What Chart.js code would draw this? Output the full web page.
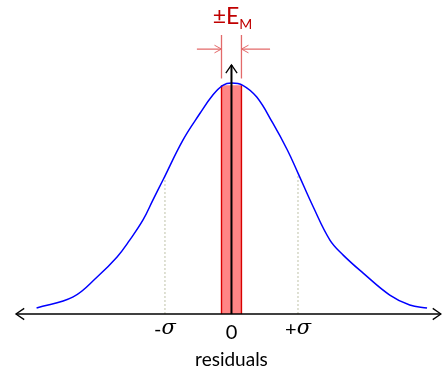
<!DOCTYPE html>
<html>
<head>
<meta charset="utf-8">
<script src="https://cdn.jsdelivr.net/npm/chart.js@4/dist/chart.umd.min.js"></script>
<style>
  html, body { margin: 0; padding: 0; background: #fff; }
  canvas { display: block; }
</style>
</head>
<body>
<canvas id="residualChart" width="442" height="370"></canvas>
<script>
'use strict';

// residual (in sigma) and relative density along the bell curve
const curveX = [-2.93, -2.38, -2.02, -1.72, -1.53, -1.33, -1.18, -1.03, -0.73, -0.47, -0.28, -0.13, 0,
  0.17, 0.38, 0.62, 0.84, 1.0, 1.23, 1.48, 1.68, 1.98, 2.38, 2.68, 2.94];
const curveY = [0.026, 0.074, 0.16, 0.247, 0.32, 0.407, 0.494, 0.58, 0.753, 0.87, 0.948, 0.99, 1.0,
  0.99, 0.939, 0.827, 0.71, 0.61, 0.463, 0.32, 0.255, 0.177, 0.082, 0.039, 0.026];

// sigma guide lines
const sigmaX = [-1, 1];
const sigmaTop = [0.59, 0.6];

// half width of the +-E_M band
const bandHalf = 0.15;
const bandTop = 0.99;

// tick labels under the axis
const tickValues = [-1, 0, 1];
const tickSigns = ['-', '', '+'];
const tickSymbols = ['σ', '0', 'σ'];
const axisTitle = 'residuals';

const blue = '#0000ff',
  bandFill = '#ff8585',
  bandEdge = '#d80000',
  lightRed = '#e36a6a',
  labelRed = '#c00000',
  guideColor = '#bfc2a8',
  black = '#000';

const pts = (xs, ys) => xs.map((v, i) => ({ x: v, y: ys[i] }));

// arrowheads, the E_M markers and the text
const diagramPlugin = {
  id: 'diagram',
  afterDatasetsDraw(chart) {
    const { ctx, scales: { x, y } } = chart;
    const head = (tx, ty, ang, len, spread) => {
      ctx.beginPath();
      ctx.moveTo(tx - len * Math.cos(ang - spread), ty - len * Math.sin(ang - spread));
      ctx.lineTo(tx, ty);
      ctx.lineTo(tx - len * Math.cos(ang + spread), ty - len * Math.sin(ang + spread));
      ctx.stroke();
    };
    ctx.save();

    // horizontal axis with arrows at both ends
    const y0 = y.getPixelForValue(0);
    const xa = x.getPixelForValue(-3.24), xb = x.getPixelForValue(3.15);
    ctx.strokeStyle = black;
    ctx.lineWidth = 1.6;
    ctx.beginPath();
    ctx.moveTo(xa, y0);
    ctx.lineTo(xb, y0);
    ctx.stroke();
    ctx.lineWidth = 1.3;
    head(xa, y0, Math.PI, 10, 0.6);
    head(xb, y0, 0, 10, 0.6);

    // vertical arrow at zero
    const xc = x.getPixelForValue(0);
    const yt = y.getPixelForValue(1.078);
    ctx.lineWidth = 2;
    ctx.beginPath();
    ctx.moveTo(xc, y0);
    ctx.lineTo(xc, yt);
    ctx.stroke();
    ctx.lineWidth = 1.3;
    head(xc, yt, -Math.PI / 2, 10, 0.6);

    // E_M marker lines and arrows
    const xl = x.getPixelForValue(-bandHalf), xr = x.getPixelForValue(bandHalf);
    ctx.strokeStyle = lightRed;
    ctx.lineWidth = 1.3;
    ctx.beginPath();
    ctx.moveTo(xl, y.getPixelForValue(1.02));
    ctx.lineTo(xl, y.getPixelForValue(1.208));
    ctx.moveTo(xr, y.getPixelForValue(1.02));
    ctx.lineTo(xr, y.getPixelForValue(1.208));
    const ya = y.getPixelForValue(1.147);
    ctx.moveTo(x.getPixelForValue(-0.52), ya);
    ctx.lineTo(xl, ya);
    ctx.moveTo(x.getPixelForValue(0.58), ya);
    ctx.lineTo(xr, ya);
    ctx.stroke();
    ctx.lineWidth = 1;
    head(xl, ya, 0, 8, 0.5);
    head(xr, ya, Math.PI, 8, 0.5);

    // ±E_M label
    ctx.fillStyle = labelRed;
    ctx.textBaseline = 'alphabetic';
    const main = '±E';
    ctx.font = '14px Lato';
    const subW = ctx.measureText('M').width;
    ctx.font = '23px Lato';
    const mainW = ctx.measureText(main).width;
    const lx = xc - (mainW + subW) / 2 + 1;
    const lb = y.getPixelForValue(1.254);
    ctx.textAlign = 'left';
    ctx.fillText(main, lx, lb);
    ctx.font = '14px Lato';
    ctx.fillText('M', lx + mainW, lb + 5);

    // tick labels
    ctx.fillStyle = black;
    ctx.textBaseline = 'middle';
    const ty = y.getPixelForValue(-0.069);
    tickValues.forEach((v, i) => {
      const px = x.getPixelForValue(v);
      const sign = tickSigns[i], sym = tickSymbols[i];
      const symFont = sym === '0' ? '20px Lato' : 'italic 21px "DejaVu Serif"';
      ctx.font = '20px Lato';
      const sw = ctx.measureText(sign).width;
      ctx.font = symFont;
      const yw = ctx.measureText(sym).width;
      const sx = px - (sw + yw) / 2;
      ctx.textAlign = 'left';
      ctx.font = '20px Lato';
      ctx.fillText(sign, sx, ty + (sym === '0' ? 3 : 0));
      ctx.font = symFont;
      ctx.fillText(sym, sx + sw, ty + (sym === '0' ? 3 : -1));
    });

    // axis title
    ctx.font = '19px Lato';
    ctx.textAlign = 'center';
    ctx.fillText(axisTitle, xc, y.getPixelForValue(-0.199));

    ctx.restore();
  }
};

const ctx = document.getElementById('residualChart');
new Chart(ctx, {
  type: 'line',
  data: {
    datasets: [
      {
        data: pts(curveX, curveY),
        borderColor: blue,
        borderWidth: 1.5,
        tension: 0.4,
        fill: false,
        order: 1
      },
      {
        data: [{ x: -bandHalf, y: 0 }, { x: -bandHalf, y: bandTop }],
        borderColor: bandEdge,
        borderWidth: 1.4,
        order: 2
      },
      {
        data: [{ x: bandHalf, y: 0 }, { x: bandHalf, y: bandTop }],
        borderColor: bandEdge,
        borderWidth: 1.4,
        order: 2
      },
      {
        data: [{ x: -bandHalf, y: bandTop }, { x: bandHalf, y: bandTop }],
        borderWidth: 0,
        borderColor: 'transparent',
        backgroundColor: bandFill,
        fill: 'origin',
        order: 3
      },
      {
        data: [{ x: sigmaX[0], y: 0 }, { x: sigmaX[0], y: sigmaTop[0] }],
        borderColor: guideColor,
        borderWidth: 1,
        borderDash: [2, 2],
        order: 4
      },
      {
        data: [{ x: sigmaX[1], y: 0 }, { x: sigmaX[1], y: sigmaTop[1] }],
        borderColor: guideColor,
        borderWidth: 1,
        borderDash: [2, 2],
        order: 4
      }
    ]
  },
  options: {
    responsive: false,
    animation: false,
    layout: { padding: 0, autoPadding: false },
    elements: { point: { radius: 0 } },
    plugins: {
      legend: { display: false },
      tooltip: { enabled: false }
    },
    scales: {
      x: { type: 'linear', min: -3.48, max: 3.165, display: false },
      y: { type: 'linear', min: -0.2424, max: 1.3593, display: false }
    }
  },
  plugins: [diagramPlugin]
});
</script>
</body>
</html>
